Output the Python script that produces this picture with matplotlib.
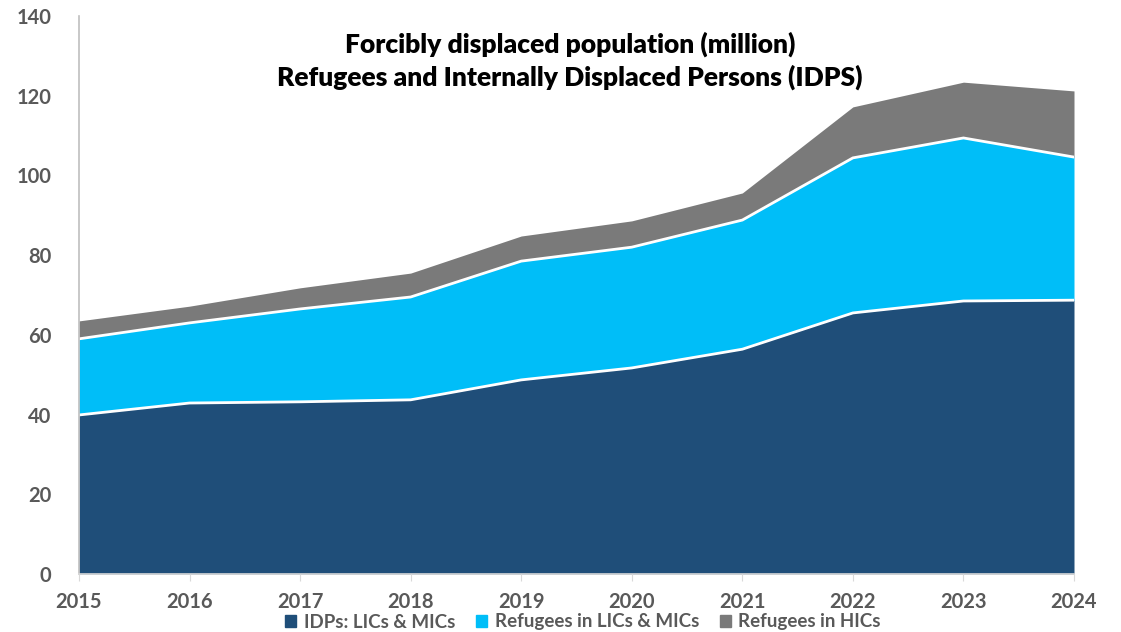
import matplotlib
matplotlib.use("Agg")
import matplotlib.pyplot as plt
import numpy as np
from matplotlib.patches import Patch

years = [2015, 2016, 2017, 2018, 2019, 2020, 2021, 2022, 2023, 2024]
idps = [39.9, 42.9, 43.2, 43.7, 48.7, 51.7, 56.4, 65.5, 68.5, 68.7]
ref_lmic = [19.1, 20.1, 23.3, 25.8, 29.8, 30.3, 32.4, 38.9, 40.9, 35.9]
ref_hic = [4.5, 4.2, 5.3, 6.0, 6.3, 6.6, 6.8, 12.8, 14.0, 16.6]
labels = ["IDPs: LICs & MICs", "Refugees in LICs & MICs", "Refugees in HICs"]
colors = ["#1F4E79", "#00BEF8", "#7A7A7A"]

plt.rcParams['font.family'] = ['Lato', 'DejaVu Sans']
fig = plt.figure(figsize=(11.21, 6.32), dpi=100)
ax = fig.add_axes([79/1121, 58/632, (1074-79)/1121, (574-16)/632])

x = np.array(years)
a = np.array(idps)
b = a + np.array(ref_lmic)
c = b + np.array(ref_hic)
ax.fill_between(x, 0, a, color=colors[0], lw=0)
ax.fill_between(x, a, b, color=colors[1], lw=0)
ax.fill_between(x, b, c, color=colors[2], lw=0)
ax.plot(x, a, color="white", lw=2)
ax.plot(x, b, color="white", lw=2)

ax.set_xlim(2015, 2024)
ax.set_ylim(0, 140)
ax.set_yticks(range(0, 141, 20))
ax.set_xticks(years)
for s in ["top", "right"]:
    ax.spines[s].set_visible(False)
ax.spines["left"].set_color("#BFBFBF")
ax.spines["bottom"].set_color("#D9D9D9")
ax.spines["left"].set_linewidth(1.2)
ax.spines["bottom"].set_linewidth(1.2)
ax.tick_params(axis="y", length=0, pad=20, labelsize=14.5, labelcolor="#595959")
ax.tick_params(axis="x", length=5, color="#D9D9D9", pad=8, labelsize=14.5, labelcolor="#595959")
for t in ax.get_xticklabels() + ax.get_yticklabels():
    t.set_fontweight("bold")

fig.text(570/1121, 1 - 44/632, "Forcibly displaced population (million)", ha="center", va="center",
         fontsize=19, fontweight="heavy", color="black")
fig.text(570/1121, 1 - 77/632, "Refugees and Internally Displaced Persons (IDPS)", ha="center", va="center",
         fontsize=19, fontweight="heavy", color="black")

handles = [Patch(color=col, label=l) for col, l in zip(colors, labels)]
leg = fig.legend(handles=handles, loc="center", bbox_to_anchor=(583/1121, 1 - 622/632), ncol=3,
                 frameon=False, handlelength=0.6, handleheight=0.6, handletextpad=0.4, columnspacing=1.1,
                 prop={"size": 13.5, "weight": "bold"})
for t in leg.get_texts():
    t.set_color("#595959")

fig.savefig("out.png", dpi=100)
